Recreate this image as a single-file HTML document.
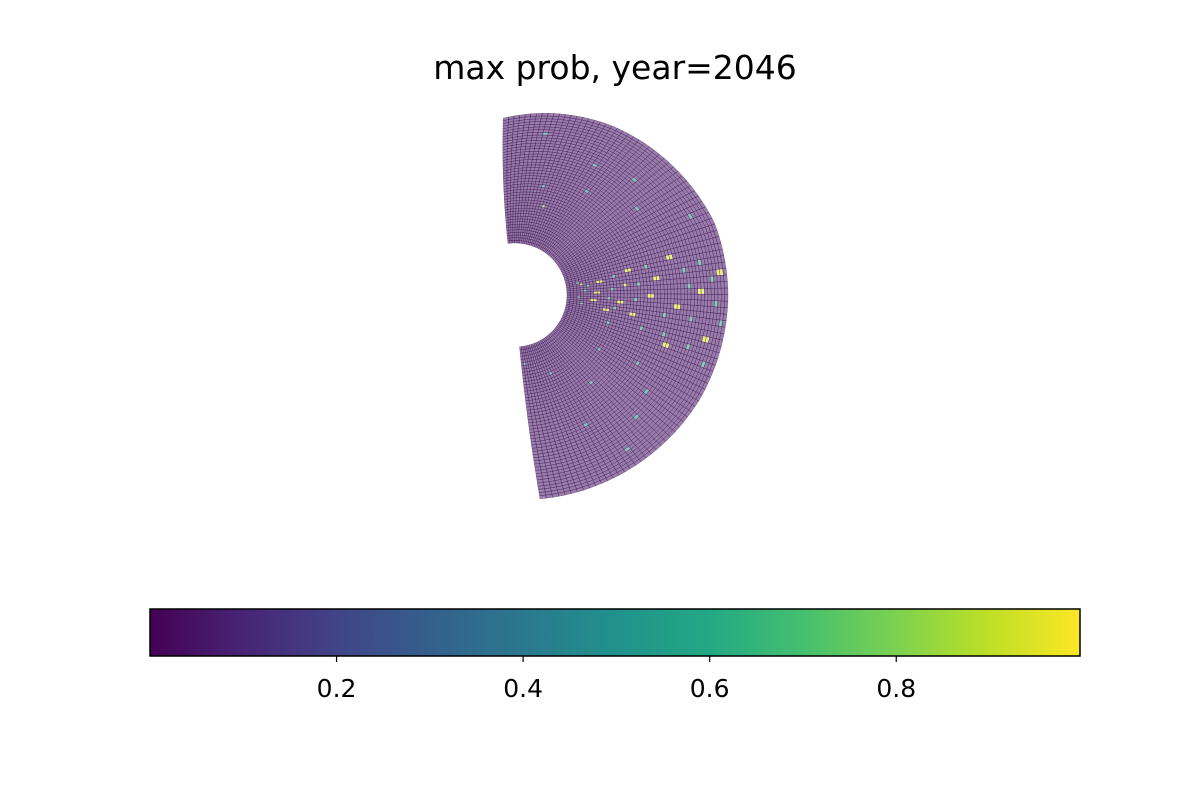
<!DOCTYPE html>
<html><head><meta charset="utf-8"><style>
body{margin:0;background:#fff;}
svg{display:block;font-family:"DejaVu Sans","Liberation Sans",sans-serif;}
</style></head><body>
<svg id="chart" width="1200" height="800" viewBox="0 0 1200 800">
<defs>
<linearGradient id="viridis" x1="0" x2="1" y1="0" y2="0">
<stop offset="0" stop-color="#440154"/><stop offset="0.1" stop-color="#482475"/>
<stop offset="0.2" stop-color="#414487"/><stop offset="0.3" stop-color="#355f8d"/>
<stop offset="0.4" stop-color="#2a788e"/><stop offset="0.5" stop-color="#21918c"/>
<stop offset="0.6" stop-color="#22a884"/><stop offset="0.7" stop-color="#44bf70"/>
<stop offset="0.8" stop-color="#7ad151"/><stop offset="0.9" stop-color="#bddf26"/>
<stop offset="1" stop-color="#fde725"/></linearGradient>
</defs>
<text x="615" y="79" text-anchor="middle" font-size="33">max prob, year=2046</text>
<g id="cells"></g>
<g>
<rect x="150" y="609" width="930" height="47" fill="url(#viridis)" stroke="#000" stroke-width="1.5"/>
<g id="cbticks"></g>
</g>
</svg>
<script>
const cbTicks = [0.2, 0.4, 0.6, 0.8];
const cbTickLabels = ["0.2", "0.4", "0.6", "0.8"];
const cbMin = 0.0, cbMax = 0.997;
const nRings = 48;
const nSectors = 100;
const baseValue = 0.05;
// [ring, sector, value]
const highlights = [
[3,47,0.6],[4,48,0.9],[6,49,0.6],[9,48,0.95],[10,48,0.95],[14,47,0.6],[18,46,0.95],[19,46,0.95],
[5,51,0.6],[8,52,0.95],[9,52,0.95],[13,51,0.6],[17,50,0.95],[21,50,0.6],[26,49,0.95],[27,49,0.95],
[3,54,0.6],[7,55,0.95],[8,55,0.95],[12,54,0.6],[15,55,0.95],[16,55,0.95],[20,54,0.6],[24,53,0.95],[25,53,0.95],
[4,57,0.6],[11,58,0.95],[12,58,0.95],[14,57,0.6],[19,58,0.95],[20,58,0.95],[29,57,0.6],[32,55,0.95],[33,55,0.95],
[36,51,0.6],[39,52,0.95],[40,52,0.95],[43,50,0.6],[45,49,0.95],[46,49,0.95],[37,57,0.6],[42,60,0.95],[43,60,0.95],
[31,63,0.95],[32,63,0.95],[30,61,0.6],[38,62,0.6],[44,54,0.6],[35,48,0.6],[24,46,0.6],[23,61,0.6],[13,62,0.6],
[31,45,0.95],[32,45,0.95],[40,47,0.6],[46,57,0.6],[44,64,0.6],
[14,13,0.8],[24,22,0.5],[33,20,0.5],[36,28,0.5],[42,39,0.5],[30,33,0.5],[21,11,0.5],[40,8,0.5],
[26,69,0.5],[33,73,0.5],[36,78,0.5],[19,80,0.5],[10,89,0.5],[5,98,0.6],[42,83,0.5],[29,87,0.5],[14,71,0.5]
];
const cx = 515, cy = 295, rIn = 52;
const thTopIn = 97.8, thTopOut = 93.8, thBotIn = -85, thBotOut = -83;
function outerR(th){
  const pts=[[98,175],[60,195],[20,212],[0,213],[-30,212],[-60,208],[-86,205]];
  for(let i=0;i<pts.length-1;i++){const a=pts[i],b=pts[i+1];
    if(th<=a[0]&&th>=b[0]){const t=(a[0]-th)/(a[0]-b[0]);return a[1]+t*(b[1]-a[1]);}}
  return 205;
}
function pt(k,s){
  const f=k/nRings;
  const top=thTopIn+(thTopOut-thTopIn)*f, bot=thBotIn+(thBotOut-thBotIn)*f;
  const th=top+(bot-top)*s/nSectors;
  const r=rIn+(outerR(th)-rIn)*f;
  const a=th*Math.PI/180;
  return [cx+r*Math.cos(a),cy-r*Math.sin(a)];}
const stops=[[68,1,84],[72,36,117],[65,68,135],[53,95,141],[42,120,142],[33,145,140],[34,168,132],[68,191,112],[122,209,81],[189,223,38],[253,231,37]];
function viridis(v){v=Math.max(0,Math.min(1,v));const x=v*10,i=Math.min(9,Math.floor(x)),t=x-i;
  const a=stops[i],b=stops[i+1];return `rgb(${a.map((c,j)=>Math.round(c+t*(b[j]-c))).join(',')})`;}
const vals={};
highlights.forEach(h=>{vals[h[0]+','+h[1]]=h[2];});
const g=document.getElementById('cells');
const NS='http://www.w3.org/2000/svg';
for(let k=0;k<nRings;k++){for(let s=0;s<nSectors;s++){
  const v=vals[k+','+s]!==undefined?vals[k+','+s]:baseValue;
  const p1=pt(k,s),p2=pt(k+1,s),p3=pt(k+1,s+1),p4=pt(k,s+1);
  const p=document.createElementNS(NS,'path');
  p.setAttribute('d',`M${p1[0].toFixed(1)},${p1[1].toFixed(1)}L${p2[0].toFixed(1)},${p2[1].toFixed(1)}L${p3[0].toFixed(1)},${p3[1].toFixed(1)}L${p4[0].toFixed(1)},${p4[1].toFixed(1)}Z`);
  p.setAttribute('fill',viridis(v));
  p.setAttribute('fill-opacity','0.55');
  p.setAttribute('stroke','#3a1050');
  p.setAttribute('stroke-opacity','0.55');
  p.setAttribute('stroke-width','0.5');
  
  
  g.appendChild(p);
}}
const tg=document.getElementById('cbticks');
function cbX(v){return 150+(v-cbMin)/(cbMax-cbMin)*930;}
cbTicks.forEach((v,i)=>{
  const x=cbX(v);
  const l=document.createElementNS(NS,'line');
  l.setAttribute('x1',x);l.setAttribute('x2',x);l.setAttribute('y1',656);l.setAttribute('y2',662);
  l.setAttribute('stroke','#000');l.setAttribute('stroke-width','1.2');
  
  
  tg.appendChild(l);
  const t=document.createElementNS(NS,'text');
  t.setAttribute('x',x);t.setAttribute('y',697);t.setAttribute('text-anchor','middle');t.setAttribute('font-size','25');
  t.textContent=cbTickLabels[i];
  
  
  tg.appendChild(t);
});
</script>
</body></html>
